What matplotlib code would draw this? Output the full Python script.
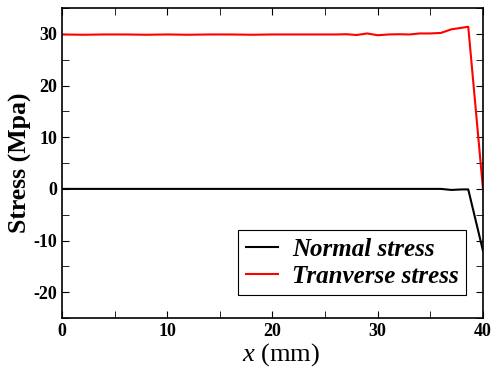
import matplotlib
matplotlib.use('Agg')
import matplotlib.pyplot as plt
from matplotlib.ticker import MultipleLocator

plt.rcParams['font.family'] = 'Liberation Serif'
plt.rcParams['mathtext.fontset'] = 'custom'
plt.rcParams['mathtext.it'] = 'Liberation Serif:italic'
plt.rcParams['mathtext.rm'] = 'Liberation Serif'
plt.rcParams['axes.unicode_minus'] = False

x_mm = [0, 2, 4, 6, 8, 10, 12, 14, 16, 18, 20, 22, 24, 26, 27, 28, 29, 30,
        31, 32, 33, 34, 35, 36, 37, 38, 38.6, 40]
normal = [0, 0, 0, 0, 0, 0, 0, 0, 0, 0, 0, 0, 0, 0, 0, 0, 0, 0,
          0, 0, 0, 0, 0, 0, -0.2, -0.1, -0.1, -12.0]
transverse = [29.9, 29.85, 29.9, 29.9, 29.85, 29.9, 29.85, 29.9, 29.9, 29.85,
              29.9, 29.9, 29.9, 29.9, 29.95, 29.8, 30.1, 29.75,
              29.9, 29.95, 29.9, 30.1, 30.1, 30.2, 30.9, 31.2, 31.4, 0]

fig = plt.figure(figsize=(4.97, 3.70), dpi=100)
ax = fig.add_axes([0.1247, 0.1405, 0.8471, 0.8375])

ax.plot(x_mm, normal, color='black', lw=1.5, label='Normal stress')
ax.plot(x_mm, transverse, color='red', lw=1.5, label='Tranverse stress')

ax.set_xlim(0, 40)
ax.set_ylim(-25, 35)
ax.xaxis.set_major_locator(MultipleLocator(10))
ax.xaxis.set_minor_locator(MultipleLocator(5))
ax.yaxis.set_major_locator(MultipleLocator(10))
ax.yaxis.set_minor_locator(MultipleLocator(5))
ax.tick_params(which='both', direction='in', top=True, right=True)
ax.tick_params(which='major', length=5)
ax.tick_params(which='minor', length=5)
for lbl in ax.get_xticklabels() + ax.get_yticklabels():
    lbl.set_fontweight('bold')
    lbl.set_fontsize(13)
for s in ax.spines.values():
    s.set_linewidth(1.2)

ax.set_xlabel('$x$ (mm)', fontsize=19, labelpad=1)
ax.xaxis.set_label_coords(0.52, -0.075)
ax.set_ylabel('Stress (Mpa)', fontsize=18.5, fontweight='bold', labelpad=1)

leg = ax.legend(loc='lower right', bbox_to_anchor=(0.978, 0.05),
                prop={'family': 'Liberation Serif', 'weight': 'bold',
                      'style': 'italic', 'size': 18},
                fancybox=False, edgecolor='black', framealpha=1,
                handlelength=1.3, borderpad=0.3, labelspacing=0.15,
                handletextpad=0.55, borderaxespad=0.3)
leg.get_frame().set_linewidth(0.8)

fig.savefig('out.png', dpi=100)
